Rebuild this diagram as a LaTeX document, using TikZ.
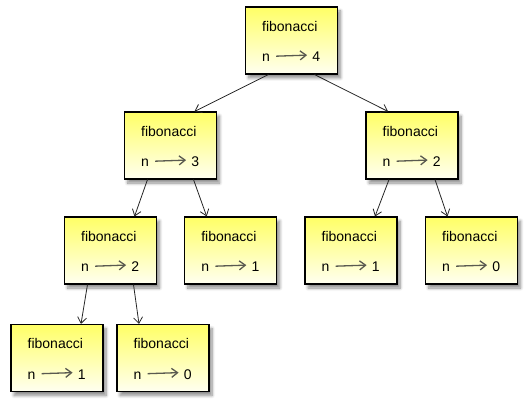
\documentclass[tikz,border=0pt]{standalone}
\usepackage{fontspec}
\setmainfont{Liberation Sans}
\usetikzlibrary{positioning,arrows.meta,shadows.blur}

\definecolor{boxtop}{HTML}{FFFF66}
\definecolor{boxbot}{HTML}{FFFFF0}
\definecolor{valgray}{HTML}{5A5A50}

\tikzset{
  frame/.style={draw=black, line width=1.1pt, minimum width=92pt, minimum height=67pt,
    top color=boxtop, bottom color=boxbot,
    blur shadow={shadow xshift=3pt, shadow yshift=-4pt, shadow blur radius=3pt,
      shadow blur steps=8, shadow opacity=45}},
  fname/.style={anchor=base west, inner sep=0pt, font=\fontsize{14}{16}\selectfont},
  fval/.style={inner sep=0pt, font=\fontsize{14}{16}\selectfont},
  valarrow/.style={draw=valgray, line width=1.3pt, -{Straight Barb[length=6pt,width=9pt]}},
  call/.style={draw=black!85, line width=0.8pt, -{Straight Barb[length=6pt,width=9pt]}}
}

\begin{document}
\begin{tikzpicture}[x=1pt,y=-1pt]
\useasboundingbox (0,0) rectangle (528,406);

% fibonacci(4)
\node [frame] (b4) at (291.5,40.5) {};
\node [fname] (f4) at ([xshift=17pt,yshift=-25pt]b4.north west) {fibonacci};
\node [fname] (n4) at ([yshift=-30.5pt]f4.base west) {n};
\node [fval, base right=42pt of n4] (v4) {4};
\draw [valarrow] ([xshift=6pt,yshift=2pt]n4.east) -- ([xshift=-5pt,yshift=2pt]v4.west);

% fibonacci(3)
\node [frame] (b3) at (170.5,145.5) {};
\node [fname] (f3) at ([xshift=17pt,yshift=-25pt]b3.north west) {fibonacci};
\node [fname] (n3) at ([yshift=-30.5pt]f3.base west) {n};
\node [fval, base right=42pt of n3] (v3) {3};
\draw [valarrow] ([xshift=6pt,yshift=2pt]n3.east) -- ([xshift=-5pt,yshift=2pt]v3.west);

% fibonacci(2), right
\node [frame] (b2r) at (412,145.5) {};
\node [fname] (f2r) at ([xshift=17pt,yshift=-25pt]b2r.north west) {fibonacci};
\node [fname] (n2r) at ([yshift=-30.5pt]f2r.base west) {n};
\node [fval, base right=42pt of n2r] (v2r) {2};
\draw [valarrow] ([xshift=6pt,yshift=2pt]n2r.east) -- ([xshift=-5pt,yshift=2pt]v2r.west);

% fibonacci(2), left
\node [frame] (b2l) at (110.5,250.5) {};
\node [fname] (f2l) at ([xshift=17pt,yshift=-25pt]b2l.north west) {fibonacci};
\node [fname] (n2l) at ([yshift=-30.5pt]f2l.base west) {n};
\node [fval, base right=42pt of n2l] (v2l) {2};
\draw [valarrow] ([xshift=6pt,yshift=2pt]n2l.east) -- ([xshift=-5pt,yshift=2pt]v2l.west);

% fibonacci(1), under 3
\node [frame] (b1a) at (230.7,250.5) {};
\node [fname] (f1a) at ([xshift=17pt,yshift=-25pt]b1a.north west) {fibonacci};
\node [fname] (n1a) at ([yshift=-30.5pt]f1a.base west) {n};
\node [fval, base right=42pt of n1a] (v1a) {1};
\draw [valarrow] ([xshift=6pt,yshift=2pt]n1a.east) -- ([xshift=-5pt,yshift=2pt]v1a.west);

% fibonacci(1), under right 2
\node [frame] (b1b) at (351,250.5) {};
\node [fname] (f1b) at ([xshift=17pt,yshift=-25pt]b1b.north west) {fibonacci};
\node [fname] (n1b) at ([yshift=-30.5pt]f1b.base west) {n};
\node [fval, base right=42pt of n1b] (v1b) {1};
\draw [valarrow] ([xshift=6pt,yshift=2pt]n1b.east) -- ([xshift=-5pt,yshift=2pt]v1b.west);

% fibonacci(0), under right 2
\node [frame] (b0a) at (471.5,250.5) {};
\node [fname] (f0a) at ([xshift=17pt,yshift=-25pt]b0a.north west) {fibonacci};
\node [fname] (n0a) at ([yshift=-30.5pt]f0a.base west) {n};
\node [fval, base right=42pt of n0a] (v0a) {0};
\draw [valarrow] ([xshift=6pt,yshift=2pt]n0a.east) -- ([xshift=-5pt,yshift=2pt]v0a.west);

% fibonacci(1), under left 2
\node [frame] (b1c) at (57,358) {};
\node [fname] (f1c) at ([xshift=17pt,yshift=-25pt]b1c.north west) {fibonacci};
\node [fname] (n1c) at ([yshift=-30.5pt]f1c.base west) {n};
\node [fval, base right=42pt of n1c] (v1c) {1};
\draw [valarrow] ([xshift=6pt,yshift=2pt]n1c.east) -- ([xshift=-5pt,yshift=2pt]v1c.west);

% fibonacci(0), under left 2
\node [frame] (b0b) at (163,358) {};
\node [fname] (f0b) at ([xshift=17pt,yshift=-25pt]b0b.north west) {fibonacci};
\node [fname] (n0b) at ([yshift=-30.5pt]f0b.base west) {n};
\node [fval, base right=42pt of n0b] (v0b) {0};
\draw [valarrow] ([xshift=6pt,yshift=2pt]n0b.east) -- ([xshift=-5pt,yshift=2pt]v0b.west);

% calls
\draw [call] ([xshift=-23pt]b4.south) -- ([xshift=24pt]b3.north);
\draw [call] ([xshift=23pt]b4.south) -- ([xshift=-24pt]b2r.north);
\draw [call] ([xshift=-23pt]b3.south) -- ([xshift=24pt]b2l.north);
\draw [call] ([xshift=23pt]b3.south) -- ([xshift=-24pt]b1a.north);
\draw [call] ([xshift=-23pt]b2r.south) -- ([xshift=24pt]b1b.north);
\draw [call] ([xshift=23pt]b2r.south) -- ([xshift=-24pt]b0a.north);
\draw [call] ([xshift=-23pt]b2l.south) -- ([xshift=24pt]b1c.north);
\draw [call] ([xshift=23pt]b2l.south) -- ([xshift=-24pt]b0b.north);

\end{tikzpicture}
\end{document}
